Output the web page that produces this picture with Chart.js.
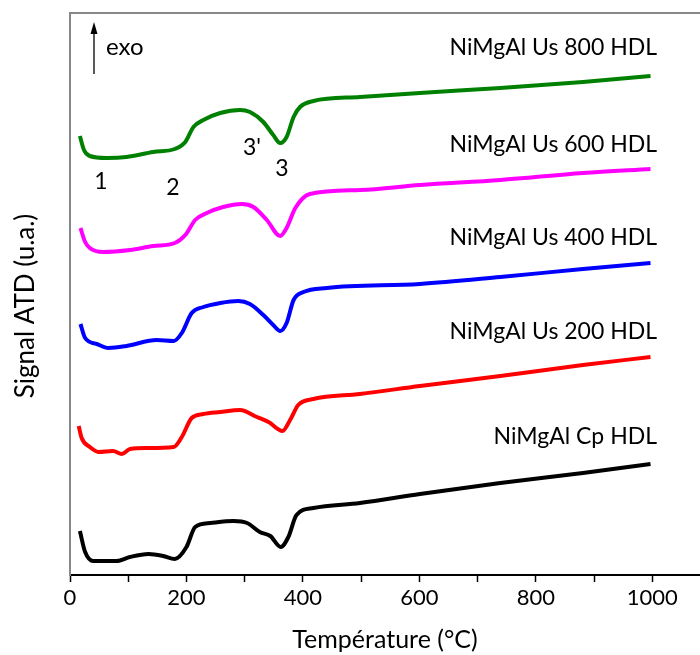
<!DOCTYPE html>
<html>
<head>
<meta charset="utf-8">
<script src="https://cdn.jsdelivr.net/npm/chart.js"></script>
<style>
body{margin:0;background:#fff;overflow:hidden}
#wrap{width:700px;height:655px;position:relative}
</style>
</head>
<body>
<div id="wrap"><canvas id="atd"></canvas></div>

<script>
/* =========================
   DATA
========================= */
const tempGreen = [17,24,34,63,97,143,180,198,212,229,258,292,309,332,349,361,372,384,395,418,498,601,739,881,997];
const us800     = [439,425,419,417,418,423,426,433,448,455,462,465,463,453,440,432,438,458,468,474,478,482,487,493,499];

const tempMagenta = [18,26,34,57,103,143,180,198,215,235,263,295,315,338,361,372,387,412,498,601,739,881,997];
const us600       = [347,333,327,323,325,329,332,340,355,362,368,371,368,355,339,347,367,381,385,390,395,402,406];

const tempBlue = [18,26,46,66,97,149,178,192,209,229,258,289,309,332,349,361,372,384,401,441,601,739,881,997];
const us400    = [251,237,231,227,229,235,234,242,262,268,272,274,271,260,250,244,252,275,283,287,291,298,306,312];

const tempRed = [15,20,34,49,74,89,103,132,178,192,209,229,258,292,321,341,365,378,392,418,498,601,739,881,997];
const us200   = [149,137,128,123,124,121,126,127,128,138,157,161,163,165,158,153,144,155,170,176,181,189,199,210,218];

const tempBlack = [17,26,40,80,103,135,160,180,200,215,241,281,304,326,344,362,375,389,418,498,601,739,881,997];
const cp        = [44,23,14,14,18,21,19,16,28,48,52,54,52,43,39,28,38,60,67,72,81,92,102,111];

const seriesNames = ["NiMgAl Us 800 HDL","NiMgAl Us 600 HDL","NiMgAl Us 400 HDL","NiMgAl Us 200 HDL","NiMgAl Cp HDL"];
const xTickLabels = [0,200,400,600,800,1000];
const peakLabels  = ["1","2","3'","3"];

/* =========================
   HELPERS
========================= */
const FONT = "Lato, 'Open Sans', sans-serif";

function pairs(xs, ys){
  return xs.map((x,i)=>({x:x, y:ys[i]}));
}

function line(label, xs, ys, color){
  return {
    label: label,
    data: pairs(xs, ys),
    borderColor: color,
    backgroundColor: color,
    borderWidth: 4,
    pointRadius: 0,
    cubicInterpolationMode: "monotone",
    fill: false
  };
}

/* =========================
   TEXT OVERLAY (labels, exo arrow, y title)
========================= */
const overlay = {
  id: "overlay",
  afterDraw(chart){
    const c = chart.ctx;
    c.save();
    c.fillStyle = "#000";
    c.textBaseline = "middle";

    // curve names, right aligned
    c.font = "23px " + FONT;
    c.textAlign = "right";
    const nameY = [48,145,238,332,437];
    seriesNames.forEach((n,i)=>c.fillText(n, 657, nameY[i]));

    // peak numbers
    c.textAlign = "center";
    const peakXY = [[101,182],[173,188],[252,148],[282,169]];
    peakLabels.forEach((p,i)=>c.fillText(p, peakXY[i][0], peakXY[i][1]));

    // exo arrow
    c.font = "24px " + FONT;
    c.textAlign = "left";
    c.fillText("exo", 106, 47);
    c.strokeStyle = "#000";
    c.lineWidth = 1.3;
    c.beginPath();
    c.moveTo(94, 74);
    c.lineTo(94, 30);
    c.stroke();
    c.beginPath();
    c.moveTo(94, 22);
    c.lineTo(90.5, 34);
    c.lineTo(97.5, 34);
    c.closePath();
    c.fill();

    // y axis title
    c.font = "26px " + FONT;
    c.translate(26, 306);
    c.rotate(-Math.PI/2);
    c.textAlign = "center";
    c.fillText("Signal ATD (u.a.)", 0, 0);
    c.restore();
  }
};

/* =========================
   CHART
========================= */
new Chart(document.getElementById("atd"), {
  type: "line",
  data: {
    datasets: [
      line(seriesNames[0], tempGreen, us800, "#008000"),
      line(seriesNames[1], tempMagenta, us600, "#ff00ff"),
      line(seriesNames[2], tempBlue, us400, "#0000ff"),
      line(seriesNames[3], tempRed, us200, "#ff0000"),
      line(seriesNames[4], tempBlack, cp, "#000000")
    ]
  },
  options: {
    responsive: true,
    maintainAspectRatio: false,
    animation: false,
    layout: { padding: { top: 13, right: 0, left: 0, bottom: 0 } },
    plugins: { legend: { display: false }, tooltip: { enabled: false } },
    scales: {
      x: {
        type: "linear",
        position: "bottom",
        min: 0,
        max: 1082,
        afterFit: s => { s.height = 80; },
        afterBuildTicks: s => { s.ticks = []; for(let v=0; v<=1000; v+=100) s.ticks.push({value:v}); },
        ticks: {
          color: "#000",
          font: { family: FONT, size: 22 },
          padding: 3,
          maxRotation: 0,
          autoSkip: false,
          callback: v => xTickLabels.includes(v) ? String(v) : ""
        },
        grid: { drawOnChartArea: false, drawTicks: true, tickLength: 7, tickColor: "#000", tickWidth: 1.5 },
        border: { color: "#000", width: 2 },
        title: {
          display: true,
          text: "Température (°C)",
          color: "#000",
          font: { family: FONT, size: 25 },
          padding: { top: 0, bottom: 0 }
        }
      },
      xTop: {
        type: "linear",
        position: "top",
        min: 0,
        max: 1082,
        afterFit: s => { s.height = 0; },
        ticks: { display: false },
        grid: { display: false, drawTicks: false },
        border: { display: true, color: "#888", width: 2 }
      },
      y: {
        type: "linear",
        min: 0,
        max: 562,
        afterFit: s => { s.width = 70; },
        ticks: { display: false },
        grid: { display: false, drawTicks: false },
        border: { display: true, color: "#888", width: 2 }
      }
    }
  },
  plugins: [overlay]
});
</script>
</body>
</html>
